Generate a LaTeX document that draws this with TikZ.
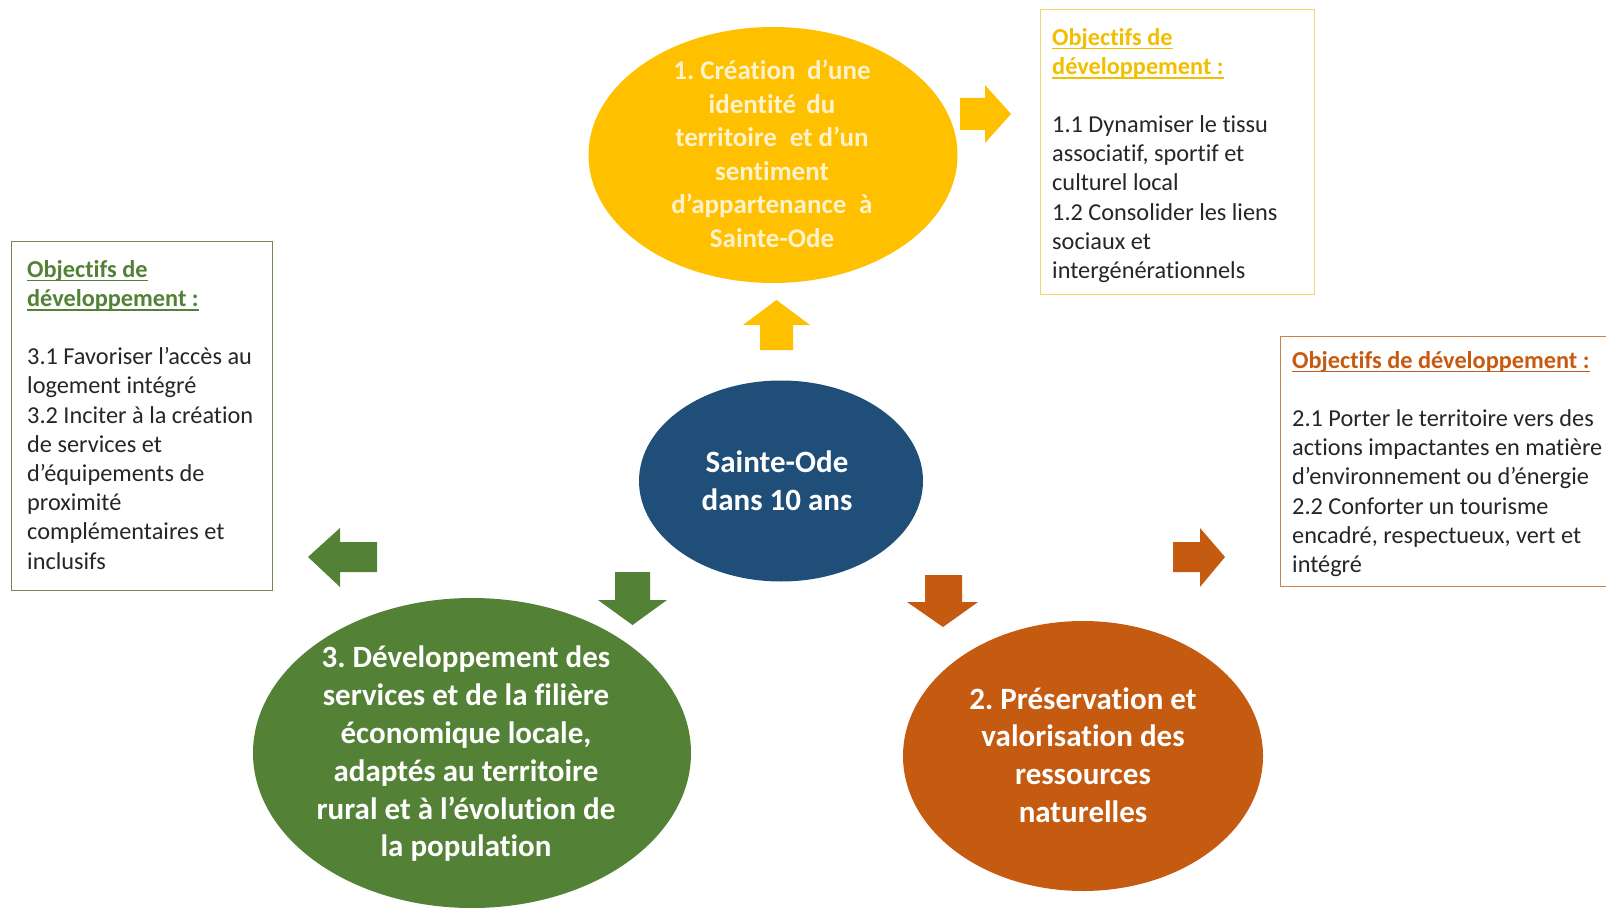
\documentclass[tikz,border=0pt]{standalone}
\usepackage{fontspec}
\setmainfont[Ligatures={NoCommon}]{Carlito}
\usetikzlibrary{shapes.geometric}
\definecolor{yelc}{HTML}{FFC000}
\definecolor{bluc}{HTML}{1F4E79}
\definecolor{grnc}{HTML}{538135}
\definecolor{orac}{HTML}{C55A11}
\definecolor{yelhead}{HTML}{F2BE00}
\definecolor{yelbox}{HTML}{F5D46E}
\definecolor{grnbox}{HTML}{6F8A5C}
\definecolor{orabox}{HTML}{C8844F}
\definecolor{bodytext}{HTML}{262626}
\definecolor{ylt}{HTML}{FFF2CC}
\newcommand\myul[1]{\setbox0\hbox{#1}\rlap{\rule[-4.3pt]{\wd0}{1.6pt}}#1}
\newcommand\hdfont{\fontsize{24.3}{29.2}\selectfont\bfseries}
\frenchspacing
\begin{document}
\frenchspacing
\begin{tikzpicture}[x=1pt,y=-1pt,
  ell/.style={ellipse, inner sep=0pt, outer sep=0pt, draw=none},
  etext/.style={align=center, inner sep=0pt, font=\fontsize{31}{37.8}\selectfont\bfseries\frenchspacing, text=white},
  obox/.style={rectangle, inner sep=0pt, line width=1.2pt, fill=white, anchor=north west},
  otext/.style={align=left, inner sep=0pt, anchor=base west, text=bodytext, font=\fontsize{24.3}{29.2}\selectfont\frenchspacing}
]
\useasboundingbox (0,0) rectangle (1606,909);
\fill[white] (0,0) rectangle (1606,909);

% ellipses
\node[ell, fill=yelc, minimum width=369pt, minimum height=256pt] (yel) at (773,155) {};
\node[ell, fill=bluc, minimum width=284pt, minimum height=201pt] (blu) at (781,481) {};
\node[ell, fill=grnc, minimum width=438pt, minimum height=310pt] (grn) at (472,753) {};
\node[ell, fill=orac, minimum width=360pt, minimum height=270pt] (ora) at (1083,756) {};

% ellipse texts
\node[etext, font=\fontsize{27}{33.5}\selectfont\bfseries\frenchspacing, text=ylt] (yelt) at (772,154)
  {1. Création\hspace{0.2em} d’une\\identité\hspace{0.15em} du\\territoire\hspace{0.25em} et d’un\\sentiment\\d’appartenance\hspace{0.25em} à\\Sainte-Ode};
\node[etext] (blut) at (777,481) {Sainte-Ode\\dans 10 ans};
\node[etext] (grnt) at (466,754) {3. Développement des\\services et de la filière\\économique locale,\\adaptés au territoire\\rural et à l’évolution de\\la population};
\node[etext] (orat) at (1083,755) {2. Préservation et\\valorisation des\\ressources\\naturelles};

% block arrows
\fill[yelc] (960,98) -- (985,98) -- (985,85) -- (1011,114) -- (985,143) -- (985,130) -- (960,130) -- cycle;
\fill[yelc] (760,350) -- (760,325) -- (743,325) -- (776.5,300) -- (810,325) -- (793,325) -- (793,350) -- cycle;
\fill[grnc] (377,542) -- (340,542) -- (340,528) -- (308,557) -- (340,587) -- (340,572) -- (377,572) -- cycle;
\fill[grnc] (615,572) -- (650,572) -- (650,600) -- (667,600) -- (632.5,625) -- (598,600) -- (615,600) -- cycle;
\fill[orac] (925,575) -- (962,575) -- (962,602) -- (978,602) -- (943,627) -- (907,602) -- (925,602) -- cycle;
\fill[orac] (1173,542) -- (1200,542) -- (1200,528) -- (1225,557) -- (1200,587) -- (1200,572) -- (1173,572) -- cycle;

% objective boxes
\node[obox, draw=yelbox, minimum width=274pt, minimum height=285pt] (ybox) at (1040,9) {};
\node[obox, draw=grnbox, minimum width=261pt, minimum height=349pt] (gbox) at (11,241) {};
\node[obox, draw=orabox, minimum width=340pt, minimum height=250pt] (obx) at (1280,336) {};

% texts (anchor = baseline of the last line)
\node[otext] (ytxt) at (1052,278.6) {{\hdfont\color{yelhead}\myul{Objectifs de}}\\{\hdfont\color{yelhead}\myul{développement :}}\\\mbox{}\\1.1 Dynamiser le tissu\\associatif, sportif et\\culturel local\\1.2 Consolider les liens\\sociaux et\\intergénérationnels};
\node[otext] (gtxt) at (27,569) {{\hdfont\color{grnc}\myul{Objectifs de}}\\{\hdfont\color{grnc}\myul{développement :}}\\\mbox{}\\3.1 Favoriser l’accès au\\logement intégré\\3.2 Inciter à la création\\de services et\\d’équipements de\\proximité\\complémentaires et\\inclusifs};
\node[otext] (otxt) at (1292,572.4) {{\hdfont\color{orac}\myul{Objectifs de développement :}}\\\mbox{}\\2.1 Porter le territoire vers des\\actions impactantes en matière\\d’environnement ou d’énergie\\2.2 Conforter un tourisme\\encadré, respectueux, vert et\\intégré};
\end{tikzpicture}
\end{document}
